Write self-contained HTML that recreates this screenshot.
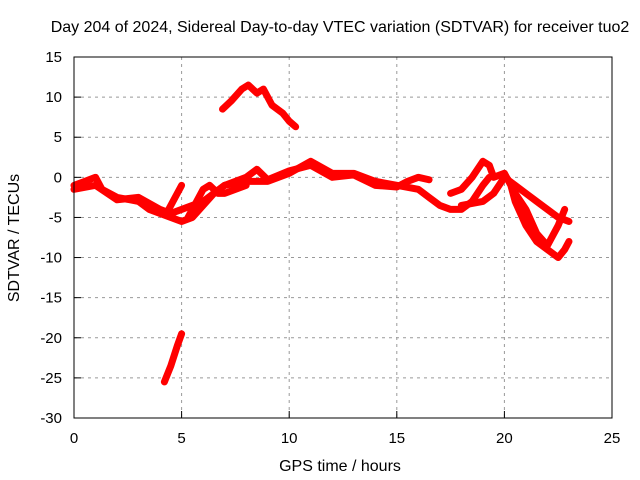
<!DOCTYPE html>
<html><head><meta charset="utf-8"><style>
body{margin:0;background:#fff}
svg{display:block;font-family:"Liberation Sans",sans-serif}
</style></head><body>
<svg id="c" width="640" height="480">
<text x="340" y="32" font-size="16" text-anchor="middle">Day 204 of 2024, Sidereal Day-to-day VTEC variation (SDTVAR) for receiver tuo2</text>
<text x="340" y="471" font-size="16" text-anchor="middle">GPS time / hours</text>
<text transform="translate(19,238) rotate(-90)" font-size="16" text-anchor="middle">SDTVAR / TECUs</text>
<g id="grid"></g><g id="series"></g>
<rect x="74" y="57" width="538" height="361" fill="none" stroke="#000" stroke-width="1"/>
</svg>
<script>
const xTicks=[0,5,10,15,20,25];
const yTicks=[15,10,5,0,-5,-10,-15,-20,-25,-30];
const sMain=[[0,-1],[0.5,-0.5],[1,0],[1.3,-1.5],[2,-2.5],[3,-3],[3.5,-4],[4,-4.5],[4.5,-5],[5,-5.5],[5.5,-5],[6,-3.5],[6.5,-2],[7,-1],[8,-0.5],[9,-0.5],[9.5,0],[10,0.5],[11,2],[12,0.5],[13,0.5],[14,-0.5],[15,-1],[16,-1.5],[16.5,-2.5],[17,-3.5],[17.5,-4],[18,-4],[18.5,-3],[19,-1],[19.3,0]];
const sSecond=[[0,-1.5],[1,-1],[2,-2.8],[3,-2.5],[4,-4],[4.5,-4.5],[5,-4],[6,-3],[7,-1],[8,0],[8.5,1],[9,-0.3],[10,0.8],[11,1.5],[12,0],[13,0.3],[14,-1],[15,-1.2],[15.5,-0.5],[16,0],[16.5,-0.3]];
const sRise1=[[4.3,-4.5],[4.7,-2.5],[5,-1]];
const sRise2=[[5.3,-5],[5.7,-3],[6,-1.5],[6.3,-1],[6.7,-2],[7,-2],[8,-1]];
const sRight1=[[17.5,-2],[18,-1.5],[18.5,0],[19,2],[19.3,1.5],[19.5,0],[20,0.5],[20.3,-1],[20.5,-3],[21,-6],[21.5,-8],[22,-9],[22.5,-10],[22.8,-9],[23,-8]];
const sRight2=[[18,-3.5],[19,-3],[19.5,-2],[20,0],[20.5,-1],[21,-2],[21.5,-3],[22,-4],[22.5,-5],[23,-5.5]];
const sRight3=[[20.5,-2],[21,-4],[21.5,-7],[22,-8.5],[22.5,-6],[22.8,-4]];
const sUpper=[[6.9,8.5],[7.3,9.5],[7.8,11],[8.1,11.5],[8.5,10.5],[8.8,11],[9.2,9],[9.7,8],[10,7],[10.3,6.3]];
const sLower=[[4.2,-25.5],[4.5,-23.5],[4.8,-21],[5,-19.5]];
const allSeries=[sMain,sSecond,sRise1,sRise2,sRight1,sRight2,sRight3,sUpper,sLower];
const X=h=>74+h*538/25, Y=v=>57+(15-v)*361/45;
const NS="http://www.w3.org/2000/svg";
const g=document.getElementById('grid'), s=document.getElementById('series');
function mk(t,a,p){const e=document.createElementNS(NS,t);for(const k in a)e.setAttribute(k,a[k]);p.appendChild(e);return e;}
xTicks.forEach(t=>{const x=X(t);
 if(t>0&&t<25){const l=mk('line',{x1:x,x2:x,y1:57,y2:418,stroke:'#999','stroke-dasharray':'3,4'},g);
 
 }
 const tk=mk('line',{x1:x,x2:x,y1:418,y2:411,stroke:'#000'},g);
 
 
 const tx=mk('text',{x:x,y:443,'font-size':15,'text-anchor':'middle'},g);tx.textContent=t;
 
 });
yTicks.forEach(t=>{const y=Y(t);
 if(t<15&&t>-30){const l=mk('line',{x1:74,x2:612,y1:y,y2:y,stroke:'#999','stroke-dasharray':'3,4'},g);
 
 }
 const tk=mk('line',{x1:74,x2:81,y1:y,y2:y,stroke:'#000'},g);
 
 
 const tx=mk('text',{x:62,y:y+5,'font-size':15,'text-anchor':'end'},g);tx.textContent=t;
 
 });
allSeries.forEach((d,i)=>{const p=mk('polyline',{points:d.map(q=>X(q[0])+','+Y(q[1])).join(' '),fill:'none',stroke:'#f00','stroke-width':7,'stroke-linejoin':'round','stroke-linecap':'round'},s);
 
 });
</script>
</body></html>
